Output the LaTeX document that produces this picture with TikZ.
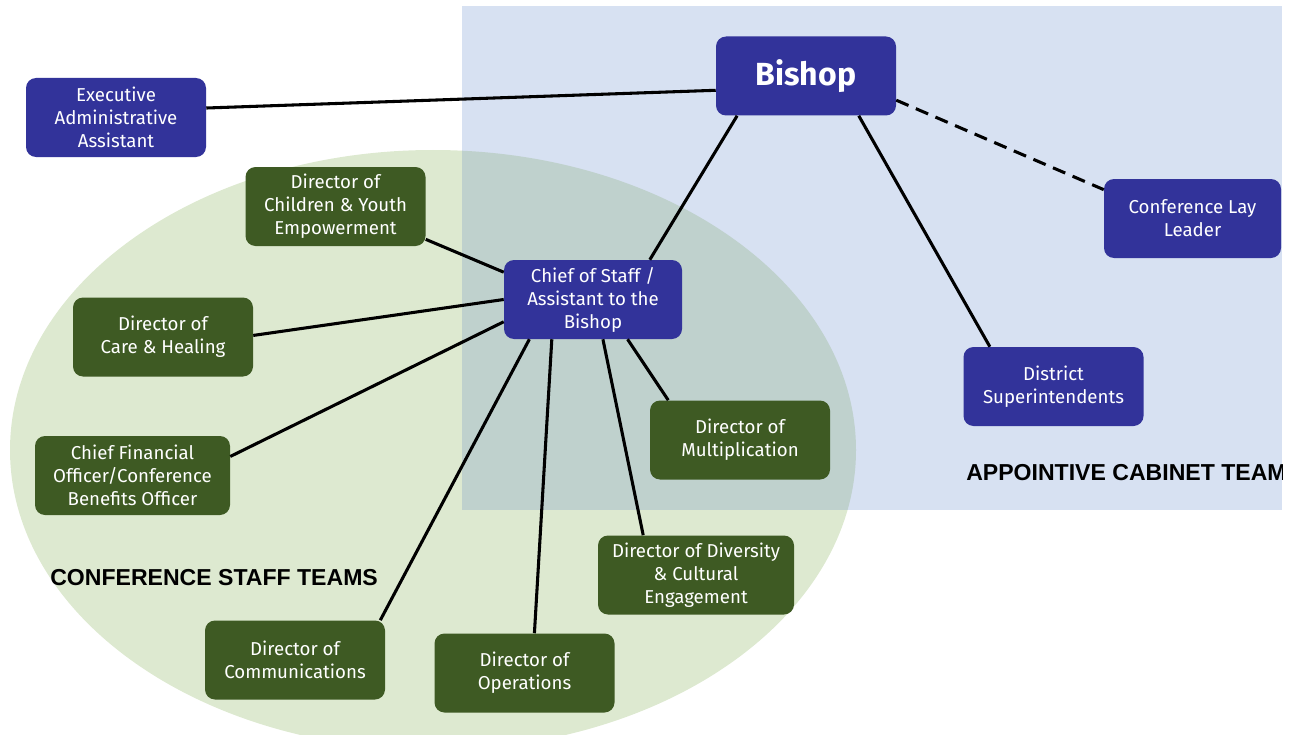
\documentclass[tikz,border=0pt]{standalone}
\usepackage{fontspec}
\setmainfont{Fira Sans}
\newfontfamily\teamfont{Liberation Sans}

\definecolor{officeblue}{HTML}{32339A}
\definecolor{staffgreen}{HTML}{3E5A23}
\definecolor{cabinetbg}{HTML}{D7E1F2}
\definecolor{staffbg}{HTML}{DDE9D0}
\definecolor{overlapbg}{HTML}{BFD1CD}

\tikzset{
	office/.style={rounded corners=7.5pt, fill=officeblue, text=white, align=center,
		minimum width=135pt, minimum height=59.25pt, inner sep=2pt,
		font=\fontsize{14}{17.25}\selectfont},
	staffbox/.style={office, fill=staffgreen},
	link/.style={line width=2.3pt, black},
	teamlabel/.style={anchor=west, inner sep=0pt, font=\teamfont\bfseries\fontsize{17.3}{20}\selectfont}
}

\begin{document}
\begin{tikzpicture}[x=0.75pt,y=-0.75pt]

	\useasboundingbox (0,0) rectangle (1297,735);

	% team areas
	\fill[staffbg] (433,450) ellipse [x radius=423, y radius=300];
	\fill[cabinetbg] (462,6) rectangle (1282,510);
	\begin{scope}
		\clip (433,450) ellipse [x radius=423, y radius=300];
		\fill[overlapbg] (462,6) rectangle (1282,510);
	\end{scope}

	\begin{scope}
		\clip (462,6) rectangle (1282,510);
		\node[teamlabel] (cabinet) at (966,473) {APPOINTIVE CABINET TEAM};
	\end{scope}
	\node[teamlabel] (staff) at (50,578) {CONFERENCE STAFF TEAMS};

	% offices
	\node[office, font=\bfseries\fontsize{24}{26}\selectfont] (bishop) at (806,76) {Bishop};
	\node[office] (exec) at (116,117.5) {Executive\\Administrative\\Assistant};
	\node[office, minimum width=132.75pt] (lay) at (1192.5,218.5) {Conference Lay\\Leader};
	\node[office] (district) at (1053.5,386.5) {District\\Superintendents};
	\node[office, minimum width=133.5pt] (chief) at (593,299.5) {Chief of Staff /\\Assistant to the\\Bishop};

	% staff
	\node[staffbox] (youth) at (335.5,206.5) {Director of\\Children \& Youth\\Empowerment};
	\node[staffbox] (care) at (163,337) {Director of\\Care \& Healing};
	\node[staffbox, minimum width=146.25pt] (cfo) at (132.5,475.5) {Chief Financial\\Officer/Conference\\Benefits Officer};
	\node[staffbox] (multi) at (740,440) {Director of\\Multiplication};
	\node[staffbox, minimum width=147pt] (diversity) at (696,575) {Director of Diversity\\\& Cultural\\Engagement};
	\node[staffbox] (ops) at (524.5,673) {Director of\\Operations};
	\node[staffbox] (comms) at (295,660) {Director of\\Communications};

	% connectors
	\draw[link] (exec.6.7) -- (bishop.189.5);
	\draw[link] (bishop.210.6) -- (chief.35.7);
	\draw[link] (bishop.323.1) -- (district.148.1);
	\draw[link, dash pattern=on 10pt off 6pt] (bishop.345.1) -- (lay.162.2);

	\draw[link] (youth.340.6) -- (chief.163.4);
	\draw[link] (care.1.9) -- (chief.180);
	\draw[link] (cfo.11.9) -- (chief.194.2);
	\draw[link] (comms.25.2) -- (chief.212.1);
	\draw[link] (ops.76.6) -- (chief.224.6);
	\draw[link] (diversity.143.5) -- (chief.284.2);
	\draw[link] (multi.151.3) -- (chief.311.5);

\end{tikzpicture}
\end{document}
